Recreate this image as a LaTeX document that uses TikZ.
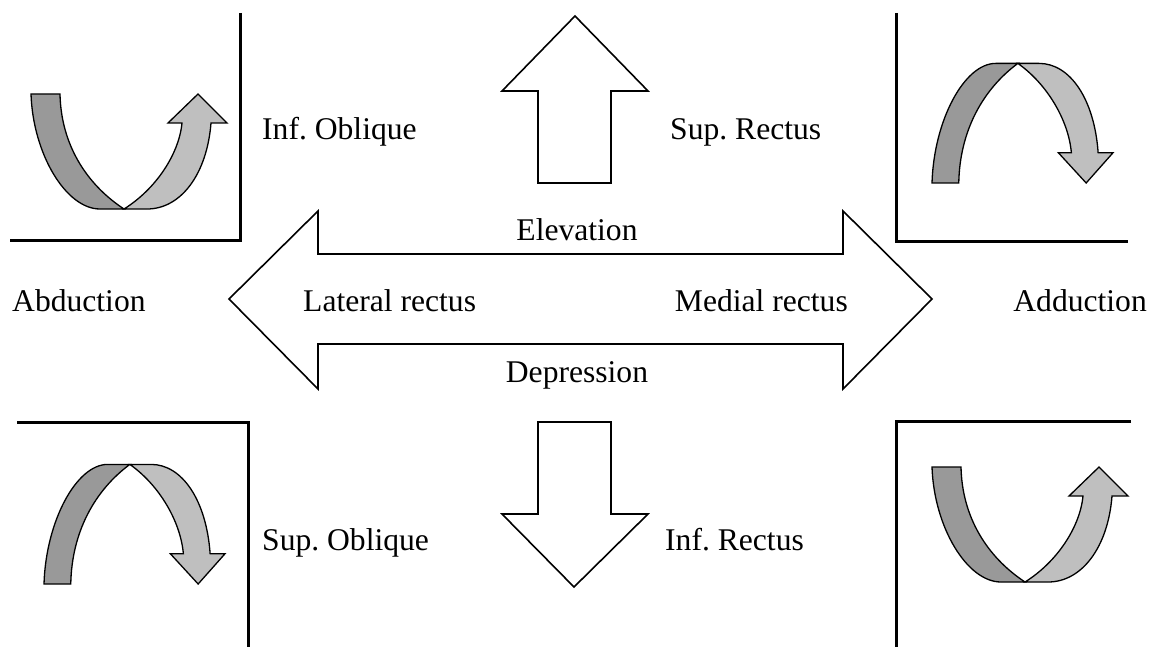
\documentclass[tikz,border=0pt]{standalone}
\usepackage{fontspec}
\setmainfont{Liberation Serif}
\frenchspacing
\begin{document}
\begin{tikzpicture}[x=1pt,y=-1pt,
  lbl/.style={font=\fontsize{31.6}{36}\selectfont, inner sep=0pt},
  bigarrow/.style={draw=black, line width=1.6pt, fill=white, line join=miter},
  corner/.style={draw=black, line width=3pt},
  darkband/.style={draw=black, line width=1.3pt, fill=black!40},
  lightband/.style={draw=black, line width=1.3pt, fill=black!25},
  uturn/.pic={
    \path[darkband] (0,0) -- (29,0) .. controls (30,50) and (55,90) .. (93,115)
      -- (69,115) .. controls (35,115) and (2,60) .. (0,0) -- cycle;
    \path[lightband] (93,115) .. controls (125,95) and (148,60) .. (151,29)
      -- (137,29) -- (167,0) -- (196,29) -- (180,29)
      .. controls (176,80) and (150,115) .. (116,115) -- cycle;
  }]
\useasboundingbox (0,0) rectangle (1150,647);

% corner brackets
\draw[corner] (240,13) -- (240,240) -- (10,240);
\draw[corner] (896,13) -- (896,241) -- (1128,241);
\draw[corner] (17,422) -- (248,422) -- (248,647);
\draw[corner] (1131,421) -- (896,421) -- (896,647);

% block arrows
\path[bigarrow] (229,299) -- (318,211) -- (318,254) -- (843,254) -- (843,211)
  -- (932,299) -- (843,389) -- (843,344) -- (318,344) -- (318,389) -- cycle;
\path[bigarrow] (575,16) -- (648,91) -- (611,91) -- (611,183) -- (538,183)
  -- (538,91) -- (502,91) -- cycle;
\path[bigarrow] (538,422) -- (611,422) -- (611,514) -- (648,514) -- (574,587)
  -- (502,514) -- (538,514) -- cycle;

% twisted rotation arrows
\pic at (31,94) {uturn};
\pic at (932,467) {uturn};
\pic[xscale=0.923,yscale=-1.04] at (932,183) {uturn};
\pic[xscale=0.923,yscale=-1.04] at (44,584) {uturn};

% labels
\node[lbl, anchor=base west] (abd) at (12,311) {Abduction};
\node[lbl, anchor=base east] (add) at (1147,311) {Adduction};
\node[lbl, anchor=base west] (lat) at (303,311) {Lateral rectus};
\node[lbl, anchor=base east] (med) at (848,311) {Medial rectus};
\node[lbl, anchor=base] (elev) at (577,240) {Elevation};
\node[lbl, anchor=base] (depr) at (577,382) {Depression};
\node[lbl, anchor=base west] (infobl) at (262,140) {Inf. Oblique};
\node[lbl, anchor=base west] (suprec) at (670,140) {Sup. Rectus};
\node[lbl, anchor=base west] (supobl) at (262,550) {Sup. Oblique};
\node[lbl, anchor=base west] (infrec) at (665,550) {Inf. Rectus};
\end{tikzpicture}
\end{document}
